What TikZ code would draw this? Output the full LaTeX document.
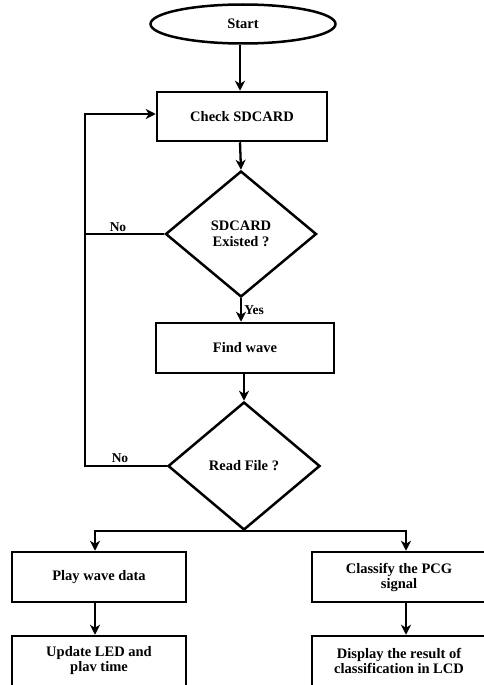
\documentclass[tikz,border=0pt]{standalone}
\usepackage{fontspec}
\setmainfont{Liberation Serif}
\usepackage{tikz}
\usetikzlibrary{arrows.meta}
\usetikzlibrary{shapes.geometric}
\usetikzlibrary{positioning}
\tikzset{arr/.style = {-{Stealth[length=10pt, width=10pt, inset=3pt]}, line width = 2.3pt}}
\tikzset{box/.style = {draw, rectangle, line width = 2.5pt, align = center,
                       font = \fontsize{14.5}{15}\selectfont\bfseries}}
\tikzset{decide/.style = {draw, diamond, line width = 2.5pt, align = center, inner sep = 0,
                          font = \fontsize{14.5}{16}\selectfont\bfseries}}
\tikzset{lbl/.style = {font = \fontsize{13.5}{15}\selectfont\bfseries}}

\begin{document}
\begin{tikzpicture}[x = 1pt, y = -1pt]
      \clip (0, 0) rectangle (484, 685);

      \node [box, ellipse, minimum width = 185, minimum height = 39] (start) at (243, 24) {Start};
      \node [box, minimum width = 170, minimum height = 49] (check) at (242, 116.5) {Check SDCARD};
      \node [decide, minimum width = 151, minimum height = 126] (exist) at (241, 234) {SDCARD\\Existed ?};
      \node [box, minimum width = 178, minimum height = 50] (find) at (245, 348) {Find wave};
      \node [decide, minimum width = 152, minimum height = 128] (read) at (244, 466) {Read File ?};
      \node [box, minimum width = 174, minimum height = 50] (play) at (99, 577) {Play wave data};
      \node [box, minimum width = 174, minimum height = 50] (classify) at (399, 577) {Classify the PCG\\signal};
      \node [box, minimum width = 174, minimum height = 50] (update) at (99, 661) {Update LED and\\plav time};
      \node [box, minimum width = 174, minimum height = 50] (display) at (399, 661) {Display the result of\\classification in LCD};
      \coordinate (loop) at (85, 466);

      \draw [arr] (start.south -| 240, 0) -- (check.north -| 240, 0);
      \draw [arr] (check.south -| 240, 0) -- (exist.north);
      \draw [arr] (exist.south) -- (exist.south |- find.north) node [lbl, midway, right = -1] {Yes};
      \draw [arr] (find.south -| read.north) -- (read.north);
      \draw [arr] (read.west) -- (loop) |- ([yshift = 2.5]check.west);
      \draw [line width = 2.3pt] (exist.west) -- (exist.west -| loop);
      \node [lbl, above] (no1) at (118, 235) {No};
      \node [lbl, above] (no2) at (120, 466) {No};
      \draw [arr] (read.south) -| ([xshift = -4]play.north);
      \draw [arr] (read.south) -| ([xshift = 7]classify.north);
      \draw [arr] ([xshift = -4]play.south) -- ([xshift = -4]update.north);
      \draw [arr] ([xshift = 7]classify.south) -- ([xshift = 7]display.north);
    \end{tikzpicture}
\end{document}
